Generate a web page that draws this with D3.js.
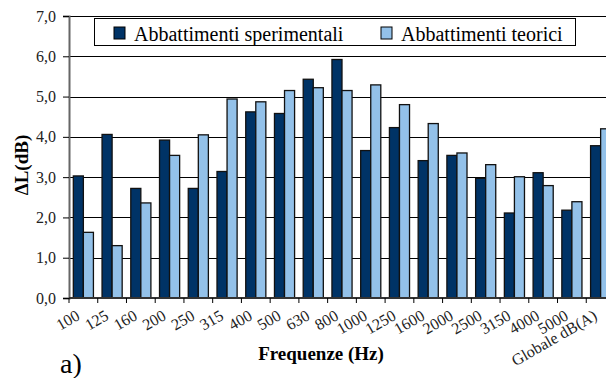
<!DOCTYPE html>
<html>
<head>
<meta charset="utf-8">
<script src="https://cdn.jsdelivr.net/npm/d3@7"></script>
<style>
  body { margin: 0; background: #fff; }
  svg text { font-family: "Liberation Serif", "DejaVu Serif", serif; }
</style>
</head>
<body>
<div id="chart"></div>
<script>
// categories (frequency bands) and the two series
const categories = ["100", "125", "160", "200", "250", "315", "400", "500", "630", "800",
  "1000", "1250", "1600", "2000", "2500", "3150", "4000", "5000", "Globale dB(A)"];
const sperimentali = [3.03, 4.06, 2.72, 3.92, 2.72, 3.14, 4.62, 4.58, 5.43, 5.92,
  3.66, 4.23, 3.41, 3.54, 2.97, 2.11, 3.11, 2.18, 3.78];
const teorici = [1.63, 1.30, 2.36, 3.54, 4.05, 4.94, 4.87, 5.15, 5.22, 5.15,
  5.29, 4.80, 4.33, 3.60, 3.31, 3.01, 2.79, 2.39, 4.20];
const seriesNames = ["Abbattimenti sperimentali", "Abbattimenti teorici"];
const yTicks = [0, 1, 2, 3, 4, 5, 6, 7];

const width = 606, height = 378;
const plotLeft = 69, plotRight = 615, plotTop = 16, plotBottom = 298;
const colors = ["#003366", "#93c1e9"];
const serif = "'Liberation Serif', 'DejaVu Serif', serif";

const svg = d3.select("#chart").append("svg")
  .attr("width", width)
  .attr("height", height);

svg.append("rect").attr("width", width).attr("height", height).attr("fill", "#fff");

const x0 = d3.scaleBand()
  .domain(categories)
  .range([plotLeft, plotRight])
  .paddingInner(0.3)
  .paddingOuter(0.15);

const x1 = d3.scaleBand()
  .domain(seriesNames)
  .range([0, x0.bandwidth()]);

const y = d3.scaleLinear()
  .domain([0, 7])
  .range([plotBottom, plotTop]);

// horizontal gridlines
svg.append("g")
  .selectAll("line")
  .data(yTicks.slice(1))
  .enter()
  .append("line")
  .attr("x1", plotLeft)
  .attr("x2", width)
  .attr("y1", d => Math.round(y(d)) + 0.5)
  .attr("y2", d => Math.round(y(d)) + 0.5)
  .attr("stroke", "#000")
  .attr("stroke-width", 1);

// bars
const rows = categories.map((c, i) => ({ cat: c, vals: [sperimentali[i], teorici[i]] }));
const groups = svg.append("g")
  .selectAll("g")
  .data(rows)
  .enter()
  .append("g")
  .attr("transform", d => `translate(${x0(d.cat)},0)`);

groups.selectAll("rect")
  .data(d => d.vals.map((v, k) => ({ name: seriesNames[k], v: v, k: k })))
  .enter()
  .append("rect")
  .attr("x", d => x1(d.name))
  .attr("y", d => y(d.v))
  .attr("width", x1.bandwidth())
  .attr("height", d => plotBottom - y(d.v))
  .attr("fill", d => colors[d.k])
  .attr("stroke", "#111")
  .attr("stroke-width", 1.3);

// y axis
const yAxis = svg.append("g")
  .attr("transform", `translate(${plotLeft},0)`)
  .call(d3.axisLeft(y)
    .tickValues(yTicks)
    .tickSize(6)
    .tickPadding(7)
    .tickFormat(d => d3.format(".1f")(d).replace(".", ",")));
yAxis.attr("font-family", serif);
yAxis.select(".domain").attr("stroke", "#666").attr("stroke-width", 2);
yAxis.selectAll(".tick line").attr("stroke", "#000");
yAxis.selectAll("text")
  .attr("fill", "#222")
  .attr("font-family", serif)
  .style("font-size", "16px");

// x axis baseline and boundary ticks
const step = x0.step();
const boundaries = categories.map(c => x0(c) - x0.paddingInner() * step / 2);
svg.append("line")
  .attr("x1", plotLeft).attr("x2", width)
  .attr("y1", plotBottom).attr("y2", plotBottom)
  .attr("stroke", "#333").attr("stroke-width", 2);
svg.append("g")
  .selectAll("line")
  .data(boundaries)
  .enter()
  .append("line")
  .attr("x1", d => d).attr("x2", d => d)
  .attr("y1", plotBottom).attr("y2", plotBottom + 5)
  .attr("stroke", "#000");

// rotated category labels
svg.append("g")
  .selectAll("text")
  .data(categories)
  .enter()
  .append("text")
  .attr("transform", d => `translate(${x0(d) + x0.bandwidth() / 2 - 8},${plotBottom + 11}) rotate(-30)`)
  .attr("text-anchor", "end")
  .attr("dy", "0.7em")
  .attr("font-family", serif)
  .style("font-size", "16px")
  .attr("fill", "#222")
  .text(d => d);

// axis titles
svg.append("text")
  .attr("transform", `translate(28,${(plotTop + plotBottom) / 2 + 8}) rotate(-90)`)
  .attr("text-anchor", "middle")
  .attr("font-family", serif)
  .style("font-size", "19px")
  .style("font-weight", "bold")
  .text("\u0394L(dB)");

svg.append("text")
  .attr("x", 321)
  .attr("y", 360)
  .attr("text-anchor", "middle")
  .attr("font-family", serif)
  .style("font-size", "19px")
  .style("font-weight", "bold")
  .text("Frequenze (Hz)");

svg.append("text")
  .attr("x", 60)
  .attr("y", 373)
  .attr("font-family", serif)
  .style("font-size", "28px")
  .text("a)");

// legend
const legend = svg.append("g");
legend.append("rect")
  .attr("x", 94.5).attr("y", 18.5)
  .attr("width", 481).attr("height", 27)
  .attr("fill", "#fff")
  .attr("stroke", "#000");
const legendX = [114, 381];
seriesNames.forEach((name, k) => {
  legend.append("rect")
    .attr("x", legendX[k]).attr("y", 27)
    .attr("width", 11).attr("height", 12)
    .attr("fill", colors[k])
    .attr("stroke", "#000");
  legend.append("text")
    .attr("x", legendX[k] + 20).attr("y", 41)
    .attr("font-family", serif)
    .style("font-size", "20px")
    .text(name);
});
</script>
</body>
</html>
